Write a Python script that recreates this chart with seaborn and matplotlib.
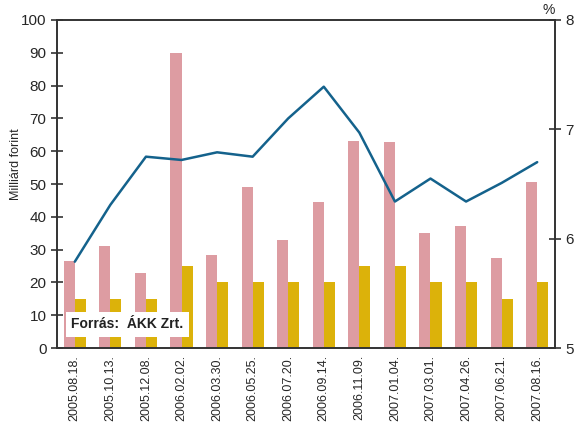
import numpy as np
import pandas as pd
import seaborn as sns
import matplotlib.pyplot as plt

dates = ['2005.08.18.', '2005.10.13.', '2005.12.08.', '2006.02.02.', '2006.03.30.',
         '2006.05.25.', '2006.07.20.', '2006.09.14.', '2006.11.09.', '2007.01.04.',
         '2007.03.01.', '2007.04.26.', '2007.06.21.', '2007.08.16.']
demand = [26.5, 31, 23, 90, 28.4, 49, 33, 44.5, 63, 62.8, 35, 37.2, 27.5, 50.6]
offered = [15, 15, 15, 25, 20, 20, 20, 20, 25, 25, 20, 20, 15, 20]
rate = [5.79, 6.31, 6.75, 6.72, 6.79, 6.75, 7.10, 7.39, 6.97, 6.34, 6.55, 6.34, 6.51, 6.70]

sns.set_style('white')
plt.rcParams['font.family'] = ['Liberation Sans', 'DejaVu Sans']

df = pd.DataFrame({'date': dates * 2,
                   'value': demand + offered,
                   'kind': ['demand'] * len(dates) + ['offered'] * len(dates)})

fig = plt.figure(figsize=(5.76, 4.25), dpi=100)
ax = fig.add_axes([0.099, 0.181, 0.8645, 0.772])
sns.barplot(data=df, x='date', y='value', hue='kind', order=dates,
            palette=['#dd9ca2', '#dcb20a'], width=0.62, gap=0, saturation=1,
            linewidth=0, legend=False, ax=ax)
ax.set_ylim(0, 100)
ax.set_xlim(-0.5, len(dates) - 0.5)
ax.set_yticks(range(0, 101, 10))
ax.set_xlabel('')
ax.set_ylabel('Milliárd forint', fontsize=9)
ax.yaxis.set_label_coords(-0.07, 0.56)
ax.set_xticks(range(len(dates)))
ax.set_xticklabels(dates, rotation=90, fontsize=9)
ax.tick_params(axis='x', length=0, pad=5)
ax.set_xticks(np.arange(len(dates) + 1) - 0.5, minor=True)
ax.tick_params(axis='x', which='minor', direction='inout', length=8, width=1.2, color='#333333')
ax.tick_params(axis='y', direction='inout', length=8, width=1.2, color='#333333', labelsize=11)

ax2 = ax.twinx()
sns.lineplot(x=np.arange(len(dates)), y=rate, color='#14628c', linewidth=1.8, ax=ax2)
ax2.set_ylim(5, 8)
ax2.set_yticks([5, 6, 7, 8])
ax2.tick_params(axis='y', direction='inout', length=8, width=1.2, color='#333333', labelsize=11)
ax2.set_xlim(-0.5, len(dates) - 0.5)

for a in (ax, ax2):
    for s in a.spines.values():
        s.set_color('#333333')
        s.set_linewidth(1.2)

fig.text(0.953, 0.968, '%', fontsize=10, ha='center')
ax.text(-0.1, 7.3, 'Forrás:  ÁKK Zrt.', fontsize=10, fontweight='bold', color='#222222',
        va='center', ha='left', zorder=5,
        bbox=dict(facecolor='white', edgecolor='none', pad=4))

fig.savefig('out.png', dpi=100)
